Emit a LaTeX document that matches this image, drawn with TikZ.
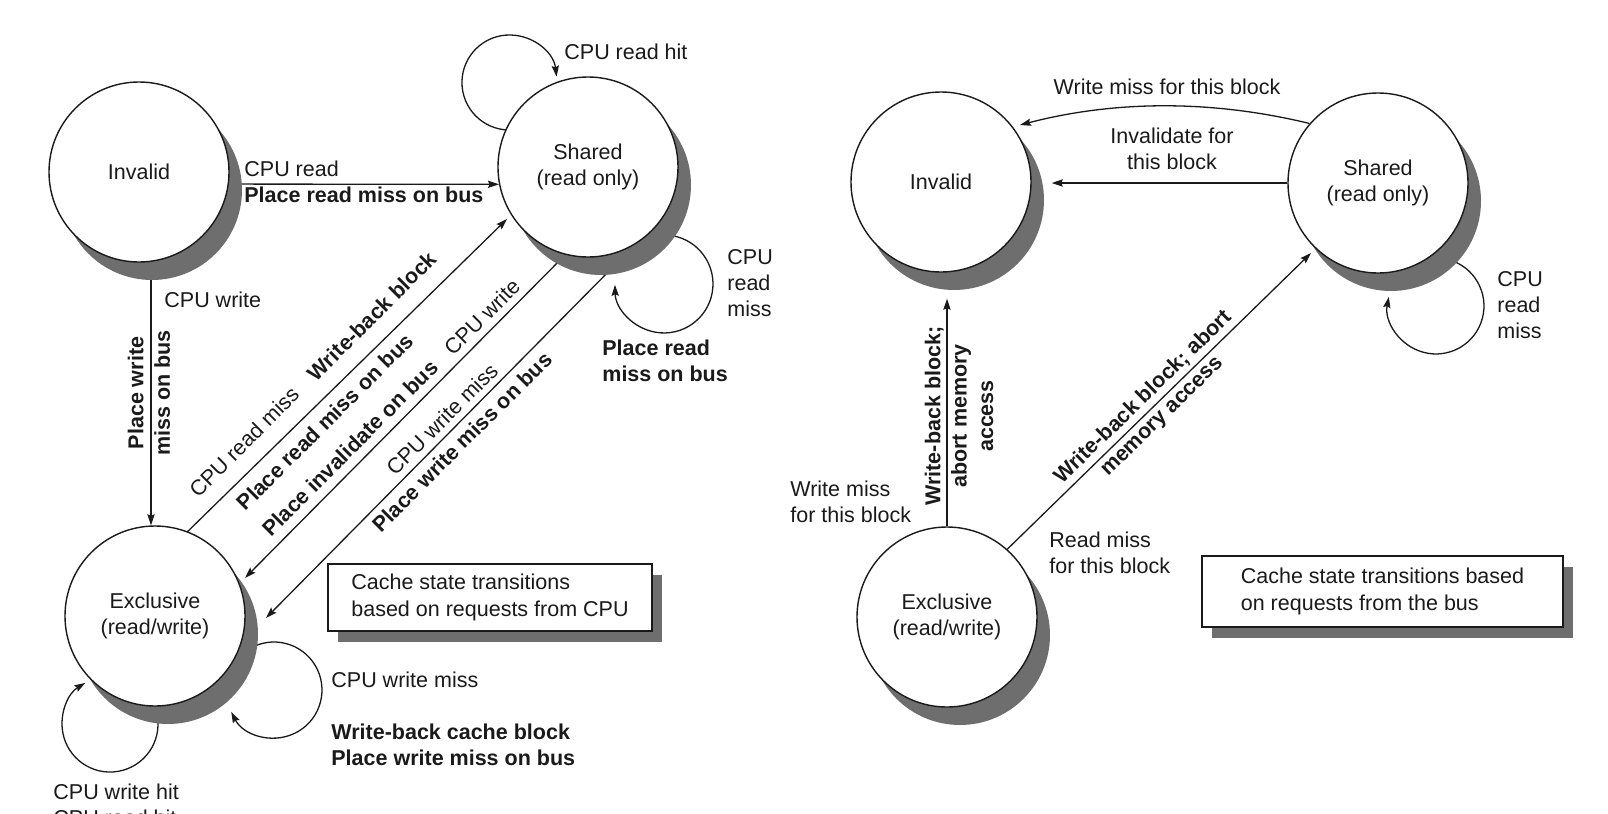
\documentclass[tikz,border=0pt]{standalone}
\usepackage{fontspec}
\setmainfont{Liberation Sans}
\usetikzlibrary{arrows.meta,shadows,calc}
\pgfdeclarelayer{background}
\pgfsetlayers{background,main}
\definecolor{shade}{HTML}{6E6E6E}
\definecolor{ink}{HTML}{1A1A1A}
\newcommand\myfs{\fontsize{10.75pt}{13.2pt}\selectfont}
\tikzset{
  state/.style={circle, draw=ink, line width=0.7pt, fill=white, minimum size=90pt,
    inner sep=0pt, align=center, font=\myfs, text=ink,
    drop shadow={shadow xshift=6.5pt, shadow yshift=-9pt, fill=shade, opacity=1, draw=none}},
  note/.style={rectangle, draw=ink, line width=0.6pt, fill=white, align=left, inner sep=0pt,
    font=\myfs, text=ink,
    drop shadow={shadow xshift=5pt, shadow yshift=-5.5pt, fill=shade, opacity=1, draw=none}},
  arr/.style={draw=ink, line width=0.65pt, -{Stealth[length=5.5pt,width=3.6pt,inset=0.8pt]}},
  lbl/.style={inner sep=0pt, text=ink, font=\myfs},
  blbl/.style={inner sep=0pt, text=ink, font=\myfs\bfseries}
}
\begin{document}
\begin{tikzpicture}[x=0.5pt,y=0.5pt]
\begin{pgfonlayer}{background}
\fill[white] (0,0) rectangle (1608,-814);
\end{pgfonlayer}
\useasboundingbox (0,0) rectangle (1608,-814);

% states
\node[state] (inv) at (139,-172) {Invalid};
\node[state] (sh) at (588,-167) {Shared\\(read only)};
\node[state] (ex) at (155,-616) {Exclusive\\(read/write)};
\node[state] (inv2) at (941,-182) {Invalid};
\node[state] (sh2) at (1378,-183) {Shared\\(read only)};
\node[state] (ex2) at (947,-617) {Exclusive\\(read/write)};

% legend boxes
\node[note, minimum width=162pt, minimum height=33.5pt] (box1) at (490,-597.5)
  {Cache state transitions\\based on requests from CPU};
\node[note, minimum width=180.5pt, minimum height=35.5pt] (box2) at (1382.5,-591.5)
  {Cache state transitions based\\on requests from the bus};

% connectors
\begin{pgfonlayer}{background}
\draw[arr] ($(inv)+(0,-12)$) -- (sh.191);
\draw[arr] ($(inv)+(12,0)$) -- ($(ex.north)+(-4,0)$);
\draw[arr] ($(ex)+(26,78)$) -- ($(sh)+(-81,-52)$);
\draw[arr] ($(sh)+(-17,-82)$) -- ($(ex)+(90,38)$);
\draw[arr] ($(sh)+(29,-96)$) -- ($(ex)+(111,-2)$);
\draw[arr] ($(sh)+(-74.4,37.2)$) arc[start angle=275,end angle=7,radius=47.5];
\draw[arr] ($(sh)+(84.5,-68.7)$) arc[start angle=80,end angle=-179,radius=49];
\draw[arr] ($(ex)+(2.3,-99.7)$) arc[start angle=10,end angle=-239,radius=48];
\draw[arr] ($(ex)+(98.7,-30.5)$) arc[start angle=115,end angle=-153,radius=48];
\draw[arr] (sh2.139) .. controls ($(sh2)+(-165,83)$) and ($(sh2)+(-262,83)$) .. ($(inv2)+(79,57)$);
\draw[arr] (sh2.west) -- ($(sh2.west -| inv2.east)+(20,0)$);
\draw[arr] (ex2.north) -- ($(ex2.north |- inv2.south)+(0,-26)$);
\draw[arr] ($(ex2)+(0,9)$) -- node[blbl, sloped, pos=0.566, align=center] (r6)
  {Write-back block; abort\\memory access} ($(sh2)+(-67,-70)$);
\draw[arr] ($(sh2)+(70.4,-76.6)$) arc[start angle=75,end angle=-191,radius=48];
\end{pgfonlayer}

% labels, left diagram
\node[lbl, anchor=west] (l1) at (244,-169) {CPU read};
\node[blbl, anchor=west] (l2) at (244,-195) {Place read miss on bus};
\node[lbl, anchor=west] (l3) at (564,-52) {CPU read hit};
\node[lbl, anchor=west, align=left] (l4) at (727,-283) {CPU\\read\\miss};
\node[blbl, anchor=west, align=left] (l5) at (602,-361) {Place read\\miss on bus};
\node[lbl, anchor=west] (l6) at (164,-300) {CPU write};
\node[blbl, rotate=90, align=center] (l7) at (149,-393) {Place write\\miss on bus};
\node[lbl, rotate=45] (l8) at (244,-442) {CPU read miss};
\node[blbl, rotate=45] (l9) at (372,-316) {Write-back block};
\node[blbl, rotate=45] (l10) at (325,-422) {Place read miss on bus};
\node[blbl, rotate=45] (l11) at (350,-448) {Place invalidate on bus};
\node[lbl, rotate=45] (l12) at (482,-317) {CPU write};
\node[lbl, rotate=45] (l13) at (442,-419) {CPU write miss};
\node[blbl, rotate=45] (l14) at (462,-442) {Place write miss on bus};
\node[lbl, anchor=west] (l15) at (331,-680) {CPU write miss};
\node[blbl, anchor=west, align=left] (l16) at (331,-745) {Write-back cache block\\Place write miss on bus};
\node[lbl, anchor=west, align=left] (l17) at (53,-805) {CPU write hit\\CPU read hit};

% labels, right diagram
\node[lbl] (r1) at (1167,-87) {Write miss for this block};
\node[lbl, align=center] (r2) at (1172,-149) {Invalidate for\\this block};
\node[lbl, anchor=west, align=left] (r3) at (1497,-305) {CPU\\read\\miss};
\node[blbl, rotate=90, align=center] (r4) at (959,-416) {Write-back block;\\abort memory\\access};
\node[lbl, anchor=west, align=left] (r5) at (790,-502) {Write miss\\for this block};
\node[lbl, anchor=west, align=left] (r7) at (1049,-553) {Read miss\\for this block};
\end{tikzpicture}
\end{document}
